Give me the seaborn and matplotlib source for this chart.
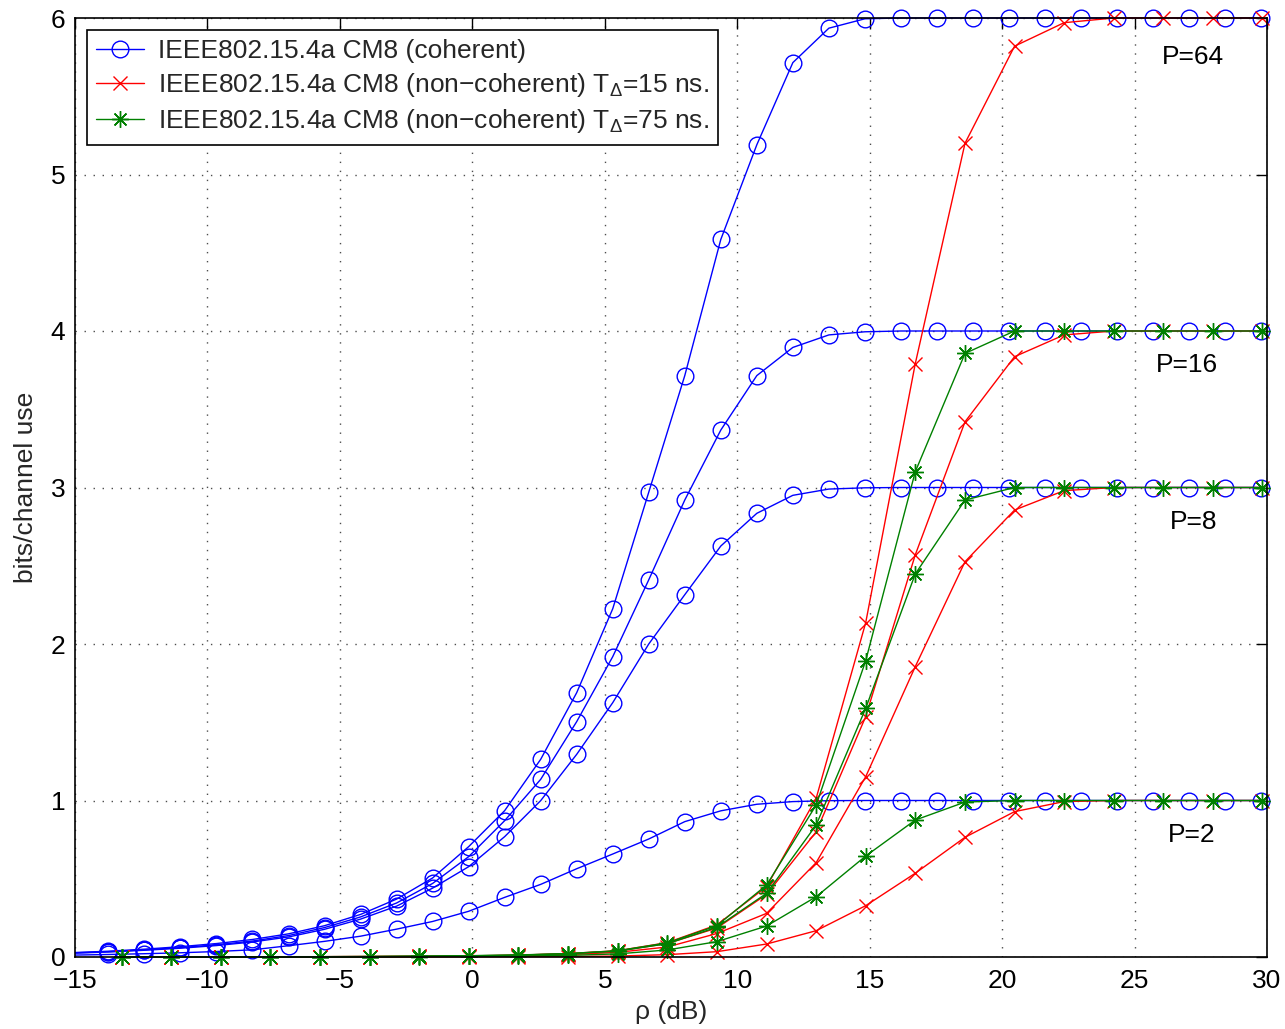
import matplotlib
matplotlib.use("Agg")
import matplotlib.pyplot as plt
from matplotlib.lines import Line2D
import pandas as pd
import seaborn as sns
from matplotlib.transforms import Bbox, TransformedBbox

# ---------------- data ----------------
rho_coherent = [-15.10, -13.74, -12.38, -11.02, -9.66, -8.30, -6.94, -5.58, -4.22, -2.86,
                -1.50, -0.14, 1.22, 2.58, 3.94, 5.30, 6.66, 8.02, 9.38, 10.74,
                12.10, 13.46, 14.82, 16.18, 17.54, 18.90, 20.26, 21.62, 22.98, 24.34,
                25.70, 27.06, 28.42, 29.78]
coh_P64 = [0.028, 0.037, 0.050, 0.066, 0.086, 0.112, 0.148, 0.200, 0.272, 0.370,
           0.505, 0.705, 0.935, 1.263, 1.689, 2.225, 2.970, 3.715, 4.585, 5.190,
           5.715, 5.935, 5.995, 6.0, 6.0, 6.0, 6.0, 6.0, 6.0, 6.0,
           6.0, 6.0, 6.0, 6.0]
coh_P16 = [0.026, 0.034, 0.046, 0.060, 0.078, 0.102, 0.137, 0.188, 0.256, 0.345,
           0.470, 0.641, 0.871, 1.135, 1.504, 1.919, 2.410, 2.920, 3.367, 3.715,
           3.895, 3.975, 3.995, 4.0, 4.0, 4.0, 4.0, 4.0, 4.0, 4.0,
           4.0, 4.0, 4.0, 4.0]
coh_P8 = [0.024, 0.032, 0.043, 0.056, 0.073, 0.096, 0.128, 0.177, 0.242, 0.325,
          0.440, 0.577, 0.769, 0.999, 1.295, 1.625, 2.000, 2.315, 2.626, 2.835,
          2.950, 2.990, 2.998, 3.0, 3.0, 3.0, 3.0, 3.0, 3.0, 3.0,
          3.0, 3.0, 3.0, 3.0]
coh_P2 = [0.012, 0.016, 0.021, 0.027, 0.035, 0.046, 0.072, 0.100, 0.133, 0.178,
          0.227, 0.292, 0.381, 0.464, 0.564, 0.658, 0.754, 0.865, 0.934, 0.976,
          0.993, 0.999, 1.0, 1.0, 1.0, 1.0, 1.0, 1.0, 1.0, 1.0,
          1.0, 1.0, 1.0, 1.0]

rho_noncoherent = [-13.24, -11.37, -9.49, -7.62, -5.75, -3.88, -2.00, -0.13, 1.74, 3.62,
                   5.49, 7.36, 9.23, 11.11, 12.98, 14.85, 16.72, 18.60, 20.47, 22.34,
                   24.22, 26.09, 27.96, 29.83]
nc15_P64 = [0.000, 0.000, 0.001, 0.001, 0.002, 0.003, 0.004, 0.007, 0.012, 0.022,
            0.040, 0.092, 0.205, 0.450, 1.014, 2.136, 3.790, 5.200, 5.820, 5.970,
            6.000, 6.000, 6.000, 6.000]
nc15_P16 = [0.000, 0.000, 0.001, 0.001, 0.002, 0.003, 0.004, 0.006, 0.011, 0.020,
            0.038, 0.086, 0.185, 0.400, 0.800, 1.536, 2.569, 3.420, 3.836, 3.975,
            4.000, 4.000, 4.000, 4.000]
nc15_P8 = [0.000, 0.000, 0.001, 0.001, 0.001, 0.002, 0.003, 0.005, 0.008, 0.015,
           0.030, 0.064, 0.150, 0.279, 0.603, 1.152, 1.855, 2.526, 2.856, 2.980,
           3.000, 3.000, 3.000, 3.000]
nc15_P2 = [0.000, 0.000, 0.000, 0.000, 0.000, 0.001, 0.001, 0.001, 0.002, 0.003,
           0.006, 0.015, 0.034, 0.083, 0.168, 0.328, 0.535, 0.765, 0.929, 0.993,
           1.000, 1.000, 1.000, 1.000]
nc75_P16 = [0.001, 0.001, 0.001, 0.002, 0.002, 0.003, 0.005, 0.008, 0.013, 0.022,
            0.040, 0.090, 0.200, 0.460, 0.971, 1.893, 3.100, 3.857, 4.000, 4.000,
            4.000, 4.000, 4.000, 4.000]
nc75_P8 = [0.001, 0.001, 0.001, 0.002, 0.002, 0.003, 0.005, 0.008, 0.012, 0.021,
           0.038, 0.085, 0.190, 0.407, 0.843, 1.589, 2.447, 2.920, 3.000, 3.000,
           3.000, 3.000, 3.000, 3.000]
nc75_P2 = [0.000, 0.000, 0.001, 0.001, 0.001, 0.002, 0.003, 0.004, 0.006, 0.010,
           0.020, 0.045, 0.098, 0.198, 0.385, 0.645, 0.875, 0.990, 1.000, 1.000,
           1.000, 1.000, 1.000, 1.000]

scheme_labels = {
    "coh": "IEEE802.15.4a CM8 (coherent)",
    "nc15": "IEEE802.15.4a CM8 (non\u2212coherent) T$_{\\mathrm{\\Delta}}$=15 ns.",
    "nc75": "IEEE802.15.4a CM8 (non\u2212coherent) T$_{\\mathrm{\\Delta}}$=75 ns.",
}
p_labels = ["P=64", "P=16", "P=8", "P=2"]
p_label_pos = [(27.2, 5.75), (26.98, 3.78), (27.22, 2.78), (27.17, 0.78)]

series = [
    ("coh", 64, rho_coherent, coh_P64),
    ("coh", 16, rho_coherent, coh_P16),
    ("coh", 8, rho_coherent, coh_P8),
    ("coh", 2, rho_coherent, coh_P2),
    ("nc15", 64, rho_noncoherent, nc15_P64),
    ("nc15", 16, rho_noncoherent, nc15_P16),
    ("nc15", 8, rho_noncoherent, nc15_P8),
    ("nc15", 2, rho_noncoherent, nc15_P2),
    ("nc75", 16, rho_noncoherent, nc75_P16),
    ("nc75", 8, rho_noncoherent, nc75_P8),
    ("nc75", 2, rho_noncoherent, nc75_P2),
]
df = pd.concat([pd.DataFrame({"rho": x, "bits": y, "scheme": s, "P": p})
                for s, p, x, y in series], ignore_index=True)

# ---------------- style ----------------
sns.set_style("white")
plt.rcParams["font.family"] = ["Liberation Sans", "DejaVu Sans"]
plt.rcParams["mathtext.fontset"] = "custom"
plt.rcParams["mathtext.rm"] = "Liberation Sans"
plt.rcParams["mathtext.it"] = "Liberation Sans:italic"
plt.rcParams["axes.unicode_minus"] = True

FS = 19
styles = {
    "coh": dict(color=(0, 0, 1), marker="o", markersize=12, markerfacecolor="none",
                markeredgecolor=(0, 0, 1), markeredgewidth=1.0),
    "nc15": dict(color=(1, 0, 0), marker="x", markersize=10,
                 markeredgecolor=(1, 0, 0), markeredgewidth=1.0),
    "nc75": dict(color=(0, 0.5, 0), marker=(8, 2, 0), markersize=12,
                 markeredgecolor=(0, 0.5, 0), markeredgewidth=1.0),
}

fig = plt.figure(figsize=(12.85, 10.29), dpi=100)
ax = fig.add_axes([75 / 1285, 1 - 957 / 1029, 1192 / 1285, 939 / 1029])

for (scheme, P), sub in df.groupby(["scheme", "P"], sort=False):
    sub = sub.sort_values("rho")
    # no marker for points lying left of the visible x-range
    mark = [i for i, v in enumerate(sub["rho"]) if v >= -15]
    sns.lineplot(data=sub, x="rho", y="bits", ax=ax, linewidth=1.0, errorbar=None,
                 legend=False, sort=True, markevery=mark, **styles[scheme])

clipbox = TransformedBbox(Bbox.from_extents(-15, -1, 40, 8), ax.transData)
for ln in ax.lines:
    ln.set_clip_path(None)
    ln.set_clip_box(clipbox)

ax.set_xlim(-15, 30)
ax.set_ylim(0, 6)
ax.set_xticks(range(-15, 31, 5))
ax.set_yticks(range(0, 7))
ax.tick_params(direction="in", top=True, right=True, length=8, width=1.0,
               labelsize=FS, colors="black")
ax.tick_params(axis="x", pad=9)
ax.tick_params(axis="y", pad=7)
ax.grid(True, linestyle=(0, (1, 5.5)), color="0.3", linewidth=1.0)
ax.set_axisbelow(True)
for sp in ax.spines.values():
    sp.set_color("black")
    sp.set_linewidth(1.2)

ax.set_xlabel("\u03c1 (dB)", fontsize=FS, labelpad=5)
ax.set_ylabel("bits/channel use", fontsize=FS, labelpad=9)

for lab, (px, py) in zip(p_labels, p_label_pos):
    ax.text(px, py, lab, ha="center", va="center", fontsize=FS, color="black")

order = ["coh", "nc15", "nc75"]
proxies = [Line2D([], [], linewidth=1.0, **styles[k]) for k in order]
leg = ax.legend(proxies, [scheme_labels[k] for k in order],
                loc="upper left", bbox_to_anchor=(0.01, 0.987), borderaxespad=0,
                fontsize=FS, handlelength=1.8, handletextpad=0.55, borderpad=0.35,
                labelspacing=0.3, frameon=True, fancybox=False, framealpha=1,
                edgecolor="black")
leg.get_frame().set_linewidth(1.2)

fig.savefig("out.png", dpi=100)
